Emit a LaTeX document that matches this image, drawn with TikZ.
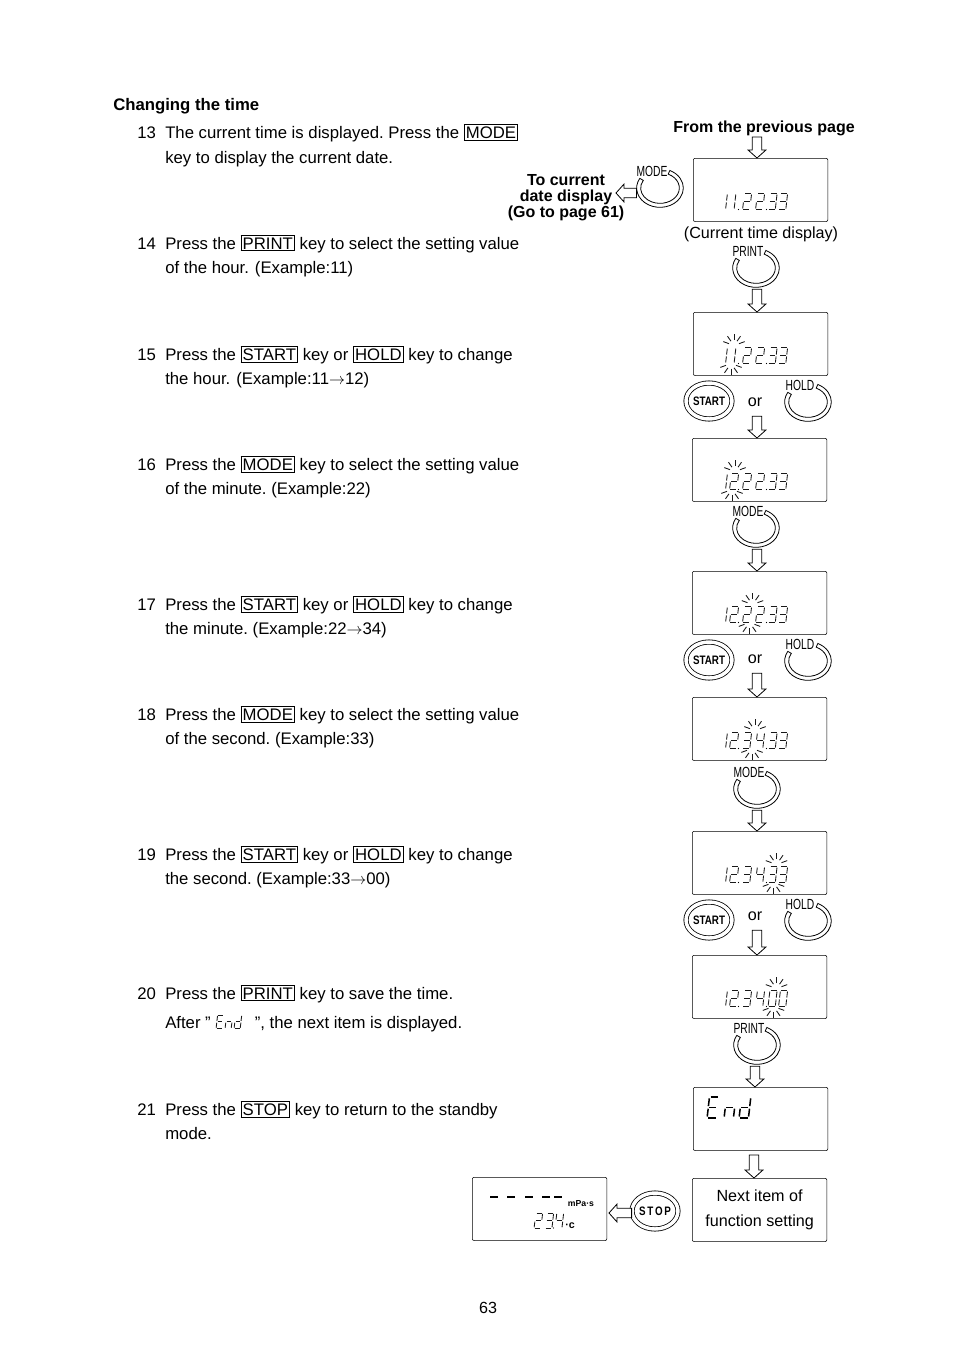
\documentclass[tikz,border=0pt]{standalone}
\usepackage{graphicx}
\usepackage{fontspec}
\setmainfont{Liberation Sans}
\usetikzlibrary{calc,shapes.geometric}
\setlength{\fboxsep}{1pt}
\setlength{\fboxrule}{0.6pt}

% seven segment pieces, in a cell 10 wide and 16 high
\newcommand{\sega}{\draw[lcdseg] (3,0) -- (9.6,0);}
\newcommand{\segb}{\draw[lcdseg] (10,1) -- (9.2,7);}
\newcommand{\segc}{\draw[lcdseg] (9,9) -- (8.2,15);}
\newcommand{\segd}{\draw[lcdseg] (.8,16) -- (7.4,16);}
\newcommand{\sege}{\draw[lcdseg] (1,9) -- (.2,15);}
\newcommand{\segf}{\draw[lcdseg] (2,1) -- (1.2,7);}
\newcommand{\segg}{\draw[lcdseg] (2,8) -- (8,8);}
\newcommand{\segh}{\draw[lcdseg] (7,1) -- (6.2,7);}
\newcommand{\segi}{\draw[lcdseg] (6,9) -- (5.2,15);}
\newcommand{\lcdglyph}[4]{\begin{scope}[shift={(#1,#2)},xscale=.9*#3,yscale=#3]
  \edef\seglist{#4}
  \foreach \s in \seglist {\csname seg\s\endcsname}
\end{scope}}
\newcommand{\digzero}{a,b,c,d,e,f}
\newcommand{\digone}{h,i}
\newcommand{\digtwo}{a,b,g,e,d}
\newcommand{\digthree}{a,b,g,c,d}
\newcommand{\digfour}{f,g,b,c}
% six digits and two points, #1 is the top of the digits
\newcommand{\lcdtime}[7]{%
  \lcdglyph{721}{#1}{1}{#2}
  \lcdglyph{729.5}{#1}{1}{#3}
  \lcdglyph{742.5}{#1}{1}{#4}
  \lcdglyph{755.5}{#1}{1}{#5}
  \lcdglyph{768}{#1}{1}{#6}
  \lcdglyph{778.5}{#1}{1}{#7}
  \fill[lcdink] (738.5,#1+16) circle (.5pt) (766.5,#1+16) circle (.5pt);
}
% blink marks over and under a pair of digits
\newcommand{\lcdrays}[2]{%
  \foreach \a in {20,55,90,125,160} {
    \draw[lcdseg] (#1+1.5,#2-2) ++(\a:4pt) -- ++(\a:4.5pt);
    \draw[lcdseg] (#1-1.5,#2+16) ++(-\a:4pt) -- ++(-\a:4.5pt);
  }
}
% open ring key with its name at the upper left
\newcommand{\ringkey}[3]{%
  \node[keyspot] (#1) at (#2) {};
  \draw[line width=.6pt] ($(#1)+(150:17.5pt and 14.5pt)$)
    arc[start angle=150,delta angle=275,x radius=17.5pt,y radius=14.5pt]
    -- ($(#1)+(65:14.5pt and 11.5pt)$)
    arc[start angle=65,delta angle=-275,x radius=14.5pt,y radius=11.5pt] -- cycle;
  \node[keylabel] (#1lbl) at ([xshift=-6pt,yshift=12.5pt]#1) {\scalebox{.7}[1]{#3}};
}

\begin{document}
\frenchspacing
\begin{tikzpicture}[x=.75pt,y=-.75pt,
    lcdink/.style={black},
    lcdseg/.style={draw=black!90,line width=.65pt},
    lcdbox/.style={draw,rounded corners=1.5pt,anchor=north west,inner sep=0pt,
                   minimum width=101pt,minimum height=47.5pt,align=center,font=\fontsize{12.1}{18.7}\selectfont},
    steptext/.style={anchor=base west,inner sep=0pt,font=\fontsize{12.55}{15}\selectfont},
    note/.style={inner sep=0pt,align=center,font=\fontsize{12.1}{15}\selectfont},
    boldnote/.style={inner sep=0pt,align=center,font=\fontsize{12}{12}\selectfont\bfseries},
    ornote/.style={note,minimum height=21pt},
    keyspot/.style={ellipse,inner sep=0pt,minimum width=35pt,minimum height=31.5pt},
    keylabel/.style={inner sep=0pt,font=\fontsize{11}{11}\selectfont},
    presskey/.style={draw,ellipse,double,double distance=2.6pt,line width=.6pt,inner sep=0pt,
                     minimum width=34.5pt,minimum height=27pt,font=\fontsize{9.2}{9}\selectfont\bfseries},
    fat/.style={draw,fill=white,line width=.6pt,to path={
      let \p1=(\tikztostart),\p2=(\tikztotarget),
          \n1={atan2(\y2-\y1,\x2-\x1)},\n2={veclen(\x2-\x1,\y2-\y1)} in
      (\p1) ++(\n1+90:3.5pt) -- ++(\n1:\n2-6pt) -- ++(\n1+90:3.2pt) -- (\p2)
      -- ($(\p2)+(\n1:-6pt)+(\n1-90:6.7pt)$) -- ++(\n1+90:3.2pt)
      -- ++(\n1:6pt-\n2) -- cycle}},
]
\useasboundingbox (0,0) rectangle (954,1350);

% Steps on the left
\node[steptext,font=\fontsize{12.55}{15}\selectfont\bfseries] (title) at (113,110) {Changing the time};

\node[steptext] (numa) at (137,138) {13};
\node[steptext] (stepa) at (165,138) {The current time is displayed. Press the \fbox{MODE}};
\node[steptext] (stepab) at (165,163) {key to display the current date.};

\node[steptext] (numb) at (137,249) {14};
\node[steptext] (stepb) at (165,249) {Press the \fbox{PRINT} key to select the setting value};
\node[steptext] (stepbb) at (165,273) {of the hour.\hspace{1pt} (Example:11)};

\node[steptext] (numc) at (137,360) {15};
\node[steptext] (stepc) at (165,360) {Press the \fbox{START} key or \fbox{HOLD} key to change};
\node[steptext] (stepcb) at (165,384) {the hour.\hspace{1pt} (Example:11$\rightarrow$12)};

\node[steptext] (numd) at (137,470) {16};
\node[steptext] (stepd) at (165,470) {Press the \fbox{MODE} key to select the setting value};
\node[steptext] (stepdb) at (165,494) {of the minute. (Example:22)};

\node[steptext] (nume) at (137,610) {17};
\node[steptext] (stepe) at (165,610) {Press the \fbox{START} key or \fbox{HOLD} key to change};
\node[steptext] (stepeb) at (165,634) {the minute. (Example:22$\rightarrow$34)};

\node[steptext] (numf) at (137,720) {18};
\node[steptext] (stepf) at (165,720) {Press the \fbox{MODE} key to select the setting value};
\node[steptext] (stepfb) at (165,744) {of the second. (Example:33)};

\node[steptext] (numg) at (137,860) {19};
\node[steptext] (stepg) at (165,860) {Press the \fbox{START} key or \fbox{HOLD} key to change};
\node[steptext] (stepgb) at (165,884) {the second. (Example:33$\rightarrow$00)};

\node[steptext] (numh) at (137,999) {20};
\node[steptext] (steph) at (165,999) {Press the \fbox{PRINT} key to save the time.};
\node[steptext] (stephb) at (165,1028) {After \symbol{34}\hspace{33pt}\symbol{34}, the next item is displayed.};
\lcdglyph{216}{1015}{.85}{a,f,g,e,d}
\lcdglyph{225}{1015}{.85}{g,e,c}
\lcdglyph{234}{1015}{.85}{b,c,d,e,g}

\node[steptext] (numi) at (137,1115) {21};
\node[steptext] (stepi) at (165,1115) {Press the \fbox{STOP} key to return to the standby};
\node[steptext] (stepib) at (165,1139) {mode.};

\node[note] (pagenum) at (488,1308) {63};

% Displays
\node[lcdbox] (boxa) at (693,158) {};
\node[lcdbox] (boxb) at (693,312) {};
\node[lcdbox] (boxc) at (692,438) {};
\node[lcdbox] (boxd) at (692,571) {};
\node[lcdbox] (boxe) at (692,697) {};
\node[lcdbox] (boxf) at (692,831) {};
\node[lcdbox] (boxg) at (692,955) {};
\node[lcdbox] (boxh) at (693,1087) {};
\node[lcdbox] (boxi) at (692,1178) {Next item of\\function setting};
\node[lcdbox] (boxj) at (472,1177) {};

\lcdtime{193.5}{\digone}{\digone}{\digtwo}{\digtwo}{\digthree}{\digthree}
\lcdtime{347.5}{\digone}{\digone}{\digtwo}{\digtwo}{\digthree}{\digthree}
\lcdrays{732.5}{347.5}
\lcdtime{473.5}{\digone}{\digtwo}{\digtwo}{\digtwo}{\digthree}{\digthree}
\lcdrays{733.5}{473.5}
\lcdtime{606.5}{\digone}{\digtwo}{\digtwo}{\digtwo}{\digthree}{\digthree}
\lcdrays{751}{606.5}
\lcdtime{732.5}{\digone}{\digtwo}{\digthree}{\digfour}{\digthree}{\digthree}
\lcdrays{753.5}{732.5}
\lcdtime{866.5}{\digone}{\digtwo}{\digthree}{\digfour}{\digthree}{\digthree}
\lcdrays{775}{866.5}
\lcdtime{990.5}{\digone}{\digtwo}{\digthree}{\digfour}{\digzero}{\digzero}
\lcdrays{775}{990.5}

% End display
\begin{scope}[lcdseg/.style={draw=black,line width=1.15pt}]
\lcdglyph{707}{1097}{1.3}{a,f,g,e,d}
\lcdglyph{724}{1097}{1.3}{g,e,c}
\lcdglyph{739}{1097}{1.3}{b,c,d,e,g}
\end{scope}

% Standby display
\foreach \x in {490,507,525,542,554} {\draw[line width=1.2pt] (\x,1197) -- (\x+8,1197);}
\lcdglyph{534}{1213}{.95}{\digtwo}
\lcdglyph{545}{1213}{.95}{\digthree}
\lcdglyph{555}{1213}{.95}{\digfour}
\fill[lcdink] (553.5,1228) circle (.5pt);
\node[inner sep=0pt,font=\fontsize{6.5}{7}\selectfont\bfseries] (lblunit) at (581,1204) {mPa·s};
\node[inner sep=0pt,font=\fontsize{8}{8}\selectfont\bfseries] (lbldeg) at (570,1226) {·c};

% Labels
\node[boldnote] (lblfrom) at (764,128) {From the previous page};
\node[note] (lblcurrent) at (761,234.5) {(Current time display)};
\node[boldnote] (lblgoto) at (566,198) {To current\\date display\\(Go to page 61)};
\node[ornote] (lblora) at (755,402) {or};
\node[ornote] (lblorb) at (755,659) {or};
\node[ornote] (lblorc) at (755,916) {or};

% Keys
\ringkey{kmodea}{660,188}{MODE}
\ringkey{kprinta}{756,268}{PRINT}
\node[presskey] (kstarta) at (709,401) {\scalebox{.8}[1]{START}};
\ringkey{kholda}{808,402}{HOLD}
\ringkey{kmodeb}{756,528}{MODE}
\node[presskey] (kstartb) at (709,660) {\scalebox{.8}[1]{START}};
\ringkey{kholdb}{808,661}{HOLD}
\ringkey{kmodec}{757,789}{MODE}
\node[presskey] (kstartc) at (709,920) {\scalebox{.8}[1]{START}};
\ringkey{kholdc}{808,921}{HOLD}
\ringkey{kprintb}{757,1045}{PRINT}
\node[presskey] (kstop) at (655,1211) {\scalebox{.8}[1]{S\,T\,O\,P}};

% Arrows
\coordinate (fromprev) at (757,137);
\coordinate (togoto) at (616,193);
\coordinate (tostop) at (609,1213);
\coordinate (belowend) at (754,1155);
\draw[fat] (fromprev) to (757,0 |- boxa.north);
\draw[fat] (kmodea.west |- togoto) to (togoto);
\draw[fat] (757,0 |- kprinta.south) to (757,0 |- boxb.north);
\draw[fat] (757,0 |- lblora.south) to (757,0 |- boxc.north);
\draw[fat] (757,0 |- kmodeb.south) to (757,0 |- boxd.north);
\draw[fat] (757,0 |- lblorb.south) to (757,0 |- boxe.north);
\draw[fat] (757,0 |- kmodec.south) to (757,0 |- boxf.north);
\draw[fat] (757,0 |- lblorc.south) to (757,0 |- boxg.north);
\draw[fat] (755,0 |- kprintb.south) to (755,0 |- boxh.north);
\draw[fat] (belowend) to (754,0 |- boxi.north);
\draw[fat] (kstop.west |- tostop) to (tostop);
\end{tikzpicture}
\end{document}
